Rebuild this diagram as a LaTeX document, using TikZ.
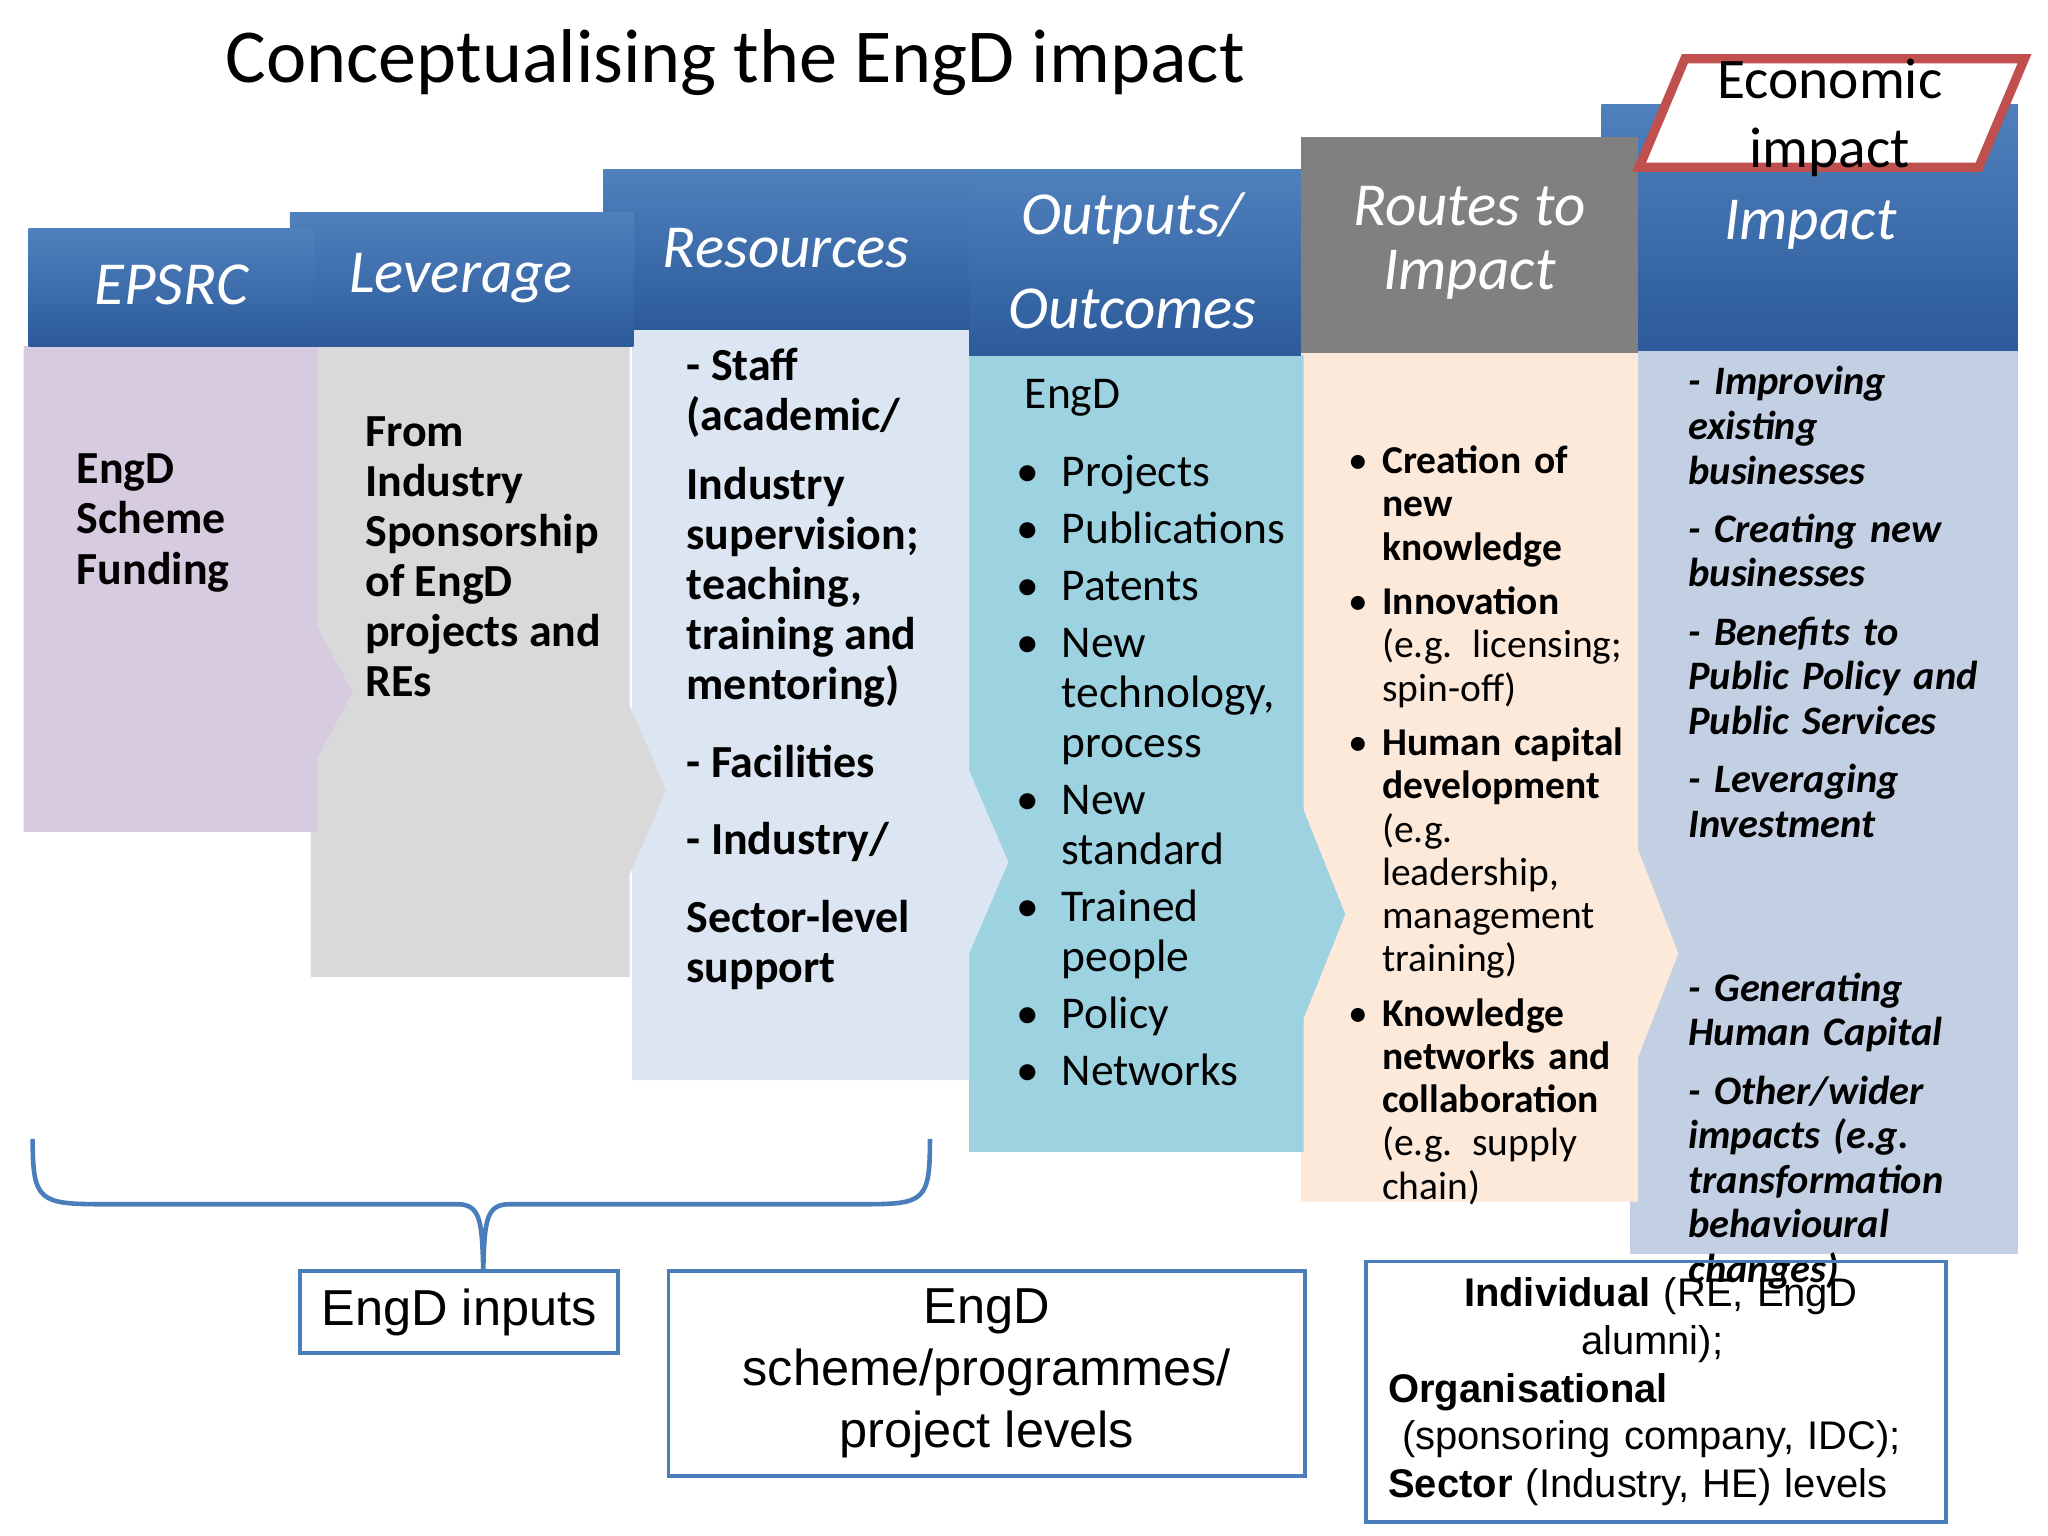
\documentclass[tikz,border=0pt]{standalone}
\usepackage{fontspec}
\setmainfont{Carlito}
\newfontfamily\arialf{Liberation Sans}
\usepackage{enumitem}
\begin{document}
\begin{tikzpicture}[x=0.01cm,y=-0.01cm,
  hdr/.style={top color=blue1,bottom color=blue2,draw=none},
  hdrtxt/.style={text=white,font=\fontsize{13.3}{20}\selectfont\itshape,align=center},
  body/.style={draw=none},
  btxt/.style={anchor=north west,align=left,inner sep=0pt},
  bbox/.style={draw=boxblue,line width=0.8pt,align=center,font=\arialf}]
\definecolor{blue1}{HTML}{4F81BD}\definecolor{blue2}{HTML}{2C5A9A}
\definecolor{boxblue}{HTML}{4A7EBB}
\definecolor{cpurp}{HTML}{D7CBE0}\definecolor{cgrey}{HTML}{D9D9D9}
\definecolor{cltblue}{HTML}{DCE6F2}\definecolor{cteal}{HTML}{9DD2E1}
\definecolor{cpeach}{HTML}{FDE9D9}\definecolor{cimp}{HTML}{C3D0E4}
\definecolor{hgrey}{HTML}{808080}\definecolor{ered}{HTML}{C0504D}
\hyphenpenalty=10000 \exhyphenpenalty=10000
\useasboundingbox (0,0) rectangle (1568,1176);
\node[font=\fontsize{16.6}{20}\selectfont] (title) at (563,48) {Conceptualising the EngD impact};
% bodies right to left
\fill[cimp] (1248,268) rectangle (1545,960);
\fill[cpeach] (996,270) -- (1254,270) -- (1254,650) -- (1285,730) -- (1254,810) -- (1254,920) -- (996,920) -- cycle;
\fill[cteal] (742,272) -- (998,272) -- (998,620) -- (1030,700) -- (998,780) -- (998,882) -- (742,882) -- cycle;
\fill[cltblue] (484,252) -- (742,252) -- (742,590) -- (772,660) -- (742,730) -- (742,827) -- (484,827) -- cycle;
\fill[cgrey] (238,265) -- (482,265) -- (482,540) -- (510,605) -- (482,670) -- (482,748) -- (238,748) -- cycle;
\fill[cpurp] (18,265) -- (243,265) -- (243,480) -- (270,530) -- (243,580) -- (243,637) -- (18,637) -- cycle;
% headers
\shade[hdr] (1226,80) rectangle (1545,268);
\fill[hgrey] (996,105) rectangle (1254,270);
\shade[hdr] (742,130) rectangle (996,272);
\shade[hdr] (462,130) rectangle (742,252);
\shade[hdr] (222,163) rectangle (485,265);
\shade[hdr] (22,175) rectangle (240,265);
\node[hdrtxt] (h1) at (131,218) {EPSRC};
\node[hdrtxt] (h2) at (353,213) {Leverage};
\node[hdrtxt] (h3) at (602,190) {Resources};
\node[hdrtxt,font=\fontsize{13.3}{20.5}\selectfont\itshape] (h4) at (867,200) {Outputs/\\Outcomes};
\node[hdrtxt,font=\fontsize{13.3}{14}\selectfont\itshape] (h5) at (1125,186) {Routes to\\Impact};
\node[hdrtxt] (h6) at (1386,172) {Impact};
\draw[ered,line width=2pt,fill=white] (1290,45) -- (1550,45) -- (1515,128) -- (1255,128) -- cycle;
\node[font=\fontsize{12.5}{15}\selectfont,align=center] (econ) at (1401,90) {Economic\\impact};
% body texts
\node[btxt,font=\fontsize{10}{10.9}\selectfont\bfseries] (t1) at (58,347) {EngD\\Scheme\\Funding};
\node[btxt,font=\fontsize{10}{10.9}\selectfont\bfseries] (t2) at (279,318) {From\\Industry\\Sponsorship\\of EngD\\projects and\\REs};
\node[btxt,font=\fontsize{10}{10.9}\selectfont\bfseries] (t3) at (525,266) {- Staff\\(academic/\\[4pt]Industry\\supervision;\\teaching,\\training and\\mentoring)\\[6pt]- Facilities\\[6pt]- Industry/\\[6pt]Sector-level\\support};
\node[btxt,text width=2.05cm,font=\fontsize{9.9}{10.9}\selectfont] (t4) at (784,290) {\raggedright EngD\par
\begin{itemize}[leftmargin=8pt,labelsep=5pt,itemsep=1.5pt,topsep=4pt,parsep=0pt]
\raggedright
\item Projects\item Publications\item Patents\item New technology, process\item New standard\item Trained people\item Policy\item Networks
\end{itemize}};
\node[btxt,text width=2.15cm,font=\fontsize{8.6}{9.4}\selectfont] (t5) at (1040,329) {%
\begin{itemize}[leftmargin=5pt,labelsep=3pt,itemsep=2.5pt,topsep=0pt,parsep=0pt]
\raggedright
\item \textbf{Creation of new knowledge}
\item \textbf{Innovation} (e.g. licensing; spin-off)
\item \textbf{Human capital development} (e.g. leadership, management training)
\item \textbf{Knowledge networks and collaboration} (e.g. supply chain)
\end{itemize}};
\node[btxt,text width=2.42cm,font=\fontsize{8.8}{9.7}\selectfont\bfseries\itshape] (t6) at (1292,280) {\raggedright
- Improving existing businesses\\[3pt]- Creating new businesses\\[3pt]- Benefits to Public Policy and Public Services\\[3pt]- Leveraging Investment\\[26pt]- Generating Human Capital\\[3pt]- Other/wider impacts (e.g. transformation behavioural changes)};
% brace
\coordinate (bl) at (25,872); \coordinate (br) at (712,872);
\draw[boxblue,line width=1pt] (bl) .. controls (25,920) and (30,922) .. (80,922) -- (350,922) .. controls (368,922) and (369,935) .. (370,972)
  .. controls (371,935) and (372,922) .. (390,922) -- (660,922) .. controls (708,922) and (712,920) .. (br);
% bottom boxes
\node[bbox,minimum width=2.43cm,minimum height=0.63cm,font=\arialf\fontsize{11}{13}\selectfont] (b1) at (351.5,1004.5) {EngD inputs};
\node[bbox,minimum width=4.87cm,minimum height=1.57cm,font=\arialf\fontsize{11}{13.5}\selectfont] (b2) at (755.5,1051.5) {EngD\\scheme/programmes/\\project levels};
\node[bbox,minimum width=4.44cm,minimum height=1.99cm,text width=4.1cm,inner sep=0pt,font=\arialf\fontsize{8.7}{10.4}\selectfont,align=left] (b3) at (1268,1065.5) {\hspace*{16.5pt}\textbf{Individual} (RE, EngD\\\hspace*{42pt}alumni);\\\textbf{Organisational}\\\hspace*{3pt}(sponsoring company, IDC);\\\textbf{Sector} (Industry, HE) levels};
\end{tikzpicture}
\end{document}
